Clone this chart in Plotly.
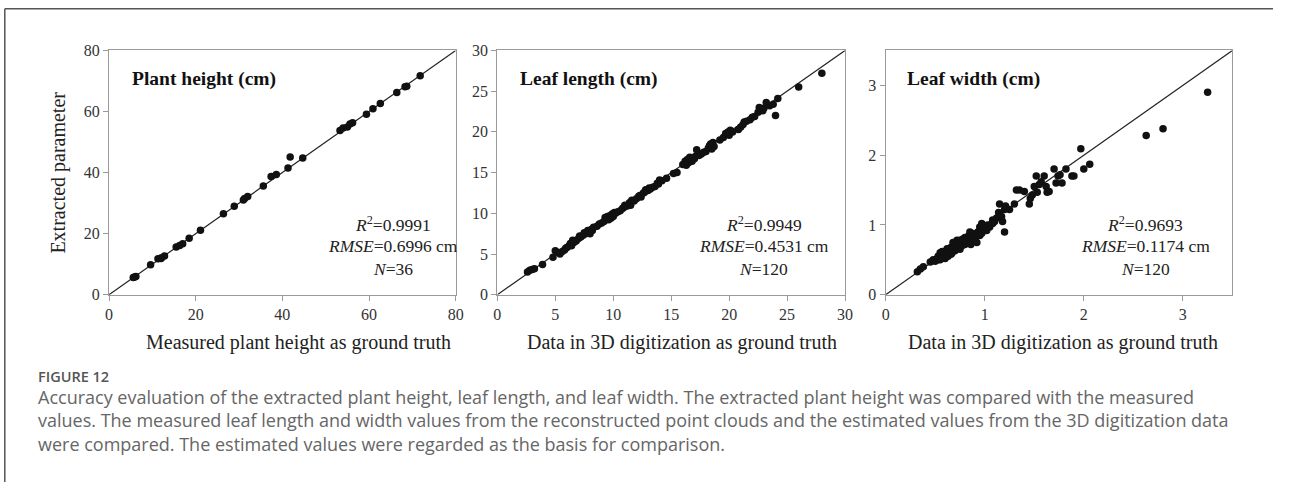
import plotly.graph_objects as go

# page is 1289x499; the html body keeps its default 8px margin, so the figure
# is made 8px smaller and all pixel positions are measured in page coordinates
PAGE_W, PAGE_H, OFF = 1289, 499, 8
W, H = PAGE_W - OFF, PAGE_H - OFF

# ---------------- data ----------------
ph_measured = [5.6, 6.2, 5.9, 9.6, 11.3, 12.1, 12.0, 12.8, 15.5, 16.3, 17.0, 18.5, 21.1, 26.4, 28.9,
               31.0, 31.3, 32.0, 35.6, 37.4, 38.6, 41.3, 41.8, 44.7, 53.3, 54.0, 55.0, 55.6, 56.2,
               59.4, 60.9, 62.6, 66.4, 68.3, 68.7, 71.8]
ph_extracted = [5.6, 6.0, 5.8, 9.8, 11.8, 12.1, 11.9, 12.7, 15.6, 16.1, 16.7, 18.5, 21.1, 26.5, 29.0,
                31.0, 31.5, 32.2, 35.6, 38.7, 39.4, 41.5, 45.1, 44.8, 53.8, 54.6, 54.9, 55.9, 56.3,
                59.1, 60.9, 62.6, 66.2, 68.1, 68.3, 71.7]

ll_digit = [2.6, 2.8, 3.0, 3.2, 3.9, 4.8, 5.0, 5.2, 5.4, 5.6, 5.8, 5.9, 6.0, 6.2, 6.3, 6.4, 6.5, 6.6,
            6.8, 7.0, 7.1, 7.2, 7.4, 7.5, 7.6, 7.8, 8.0, 8.1, 8.2, 8.3, 8.6, 8.8, 9.0, 9.2, 9.3, 9.4,
            9.5, 9.6, 9.7, 9.8, 9.9, 10.0, 10.1, 10.2, 10.4, 10.6, 10.8, 10.9, 11.0, 11.2, 11.4, 11.5,
            11.6, 11.8, 12.0, 12.2, 12.3, 12.4, 12.6, 12.7, 12.8, 13.0, 13.1, 13.2, 13.4, 13.6, 13.8,
            13.9, 14.0, 14.2, 14.6, 15.2, 15.5, 16.0, 16.2, 16.3, 16.4, 16.5, 16.6, 16.7, 16.8, 17.0,
            17.1, 17.2, 17.4, 17.6, 17.8, 18.0, 18.2, 18.3, 18.4, 18.5, 18.6, 18.7, 19.2, 19.5, 19.7,
            19.9, 20.0, 20.1, 20.3, 20.8, 21.0, 21.2, 21.3, 21.5, 21.8, 22.0, 22.2, 22.5, 22.6, 22.9,
            23.0, 23.2, 23.5, 23.8, 24.0, 24.2, 26.0, 28.0]
ll_extract = [2.8, 3.0, 3.1, 3.2, 3.7, 4.6, 5.4, 5.2, 5.0, 5.3, 5.5, 5.7, 5.8, 6.0, 6.3, 6.0, 6.7, 6.4,
              6.6, 6.9, 7.2, 7.1, 7.3, 7.6, 7.5, 7.9, 7.5, 8.0, 7.9, 8.3, 8.4, 8.7, 8.8, 9.0, 9.5, 9.3,
              9.6, 9.2, 9.7, 9.4, 9.9, 9.6, 10.1, 10.0, 10.2, 10.3, 10.6, 10.7, 11.0, 10.9, 11.3, 11.0,
              11.6, 11.5, 11.8, 12.1, 12.2, 12.0, 12.5, 12.6, 12.9, 12.8, 13.1, 13.0, 13.2, 13.3, 13.7,
              13.6, 14.1, 14.0, 14.3, 14.9, 15.0, 16.0, 16.4, 15.9, 16.6, 16.2, 16.9, 16.5, 16.4, 16.7,
              17.0, 17.8, 17.1, 17.3, 17.5, 17.6, 18.0, 18.3, 18.5, 17.9, 18.7, 18.2, 19.0, 19.3, 19.8,
              20.0, 19.6, 20.2, 20.0, 20.3, 20.6, 20.9, 21.2, 21.3, 21.5, 21.8, 21.9, 22.4, 23.0, 22.6,
              22.9, 23.6, 23.2, 23.4, 22.0, 24.1, 25.5, 27.2]

lw_digit = [0.32, 0.35, 0.38, 0.45, 0.48, 0.50, 0.52, 0.53, 0.53, 0.55, 0.55, 0.56, 0.57, 0.57, 0.58,
            0.59, 0.60, 0.60, 0.60, 0.62, 0.62, 0.63, 0.64, 0.64, 0.65, 0.66, 0.66, 0.67, 0.68, 0.68,
            0.69, 0.70, 0.70, 0.71, 0.71, 0.72, 0.72, 0.73, 0.74, 0.74, 0.75, 0.75, 0.76, 0.76, 0.77,
            0.78, 0.78, 0.79, 0.80, 0.80, 0.81, 0.82, 0.83, 0.84, 0.85, 0.85, 0.86, 0.87, 0.88, 0.88,
            0.90, 0.90, 0.92, 0.92, 0.93, 0.95, 0.95, 0.96, 0.97, 0.97, 0.98, 0.99, 1.00, 1.00, 1.02,
            1.03, 1.05, 1.08, 1.08, 1.10, 1.12, 1.14, 1.15, 1.17, 1.18, 1.20, 1.20, 1.21, 1.25, 1.30,
            1.32, 1.35, 1.40, 1.45, 1.46, 1.48, 1.50, 1.52, 1.53, 1.55, 1.57, 1.60, 1.62, 1.63, 1.65,
            1.70, 1.72, 1.74, 1.76, 1.78, 1.82, 1.88, 1.90, 1.97, 2.00, 2.06, 2.63, 2.80, 3.25]
lw_extract = [0.33, 0.37, 0.40, 0.47, 0.50, 0.48, 0.52, 0.55, 0.50, 0.50, 0.60, 0.58, 0.53, 0.62, 0.60,
              0.55, 0.62, 0.57, 0.52, 0.60, 0.66, 0.55, 0.65, 0.60, 0.62, 0.68, 0.58, 0.60, 0.75, 0.66,
              0.73, 0.70, 0.63, 0.72, 0.66, 0.67, 0.78, 0.76, 0.70, 0.68, 0.65, 0.78, 0.73, 0.77, 0.70,
              0.80, 0.72, 0.75, 0.72, 0.82, 0.77, 0.78, 0.75, 0.85, 0.80, 0.90, 0.72, 0.88, 0.82, 0.78,
              0.78, 0.86, 0.75, 0.88, 0.90, 0.85, 0.97, 0.92, 0.88, 1.02, 1.00, 0.95, 0.98, 0.92, 0.92,
              1.00, 0.97, 1.07, 1.02, 1.05, 1.10, 1.18, 1.30, 1.12, 1.05, 0.90, 1.22, 1.27, 1.22, 1.30,
              1.50, 1.50, 1.48, 1.30, 1.38, 1.43, 1.55, 1.70, 1.47, 1.58, 1.62, 1.70, 1.55, 1.47, 1.48,
              1.80, 1.60, 1.70, 1.72, 1.60, 1.80, 1.70, 1.70, 2.09, 1.80, 1.87, 2.28, 2.38, 2.90]

titles = ["Plant height (cm)", "Leaf length (cm)", "Leaf width (cm)"]
stats = [("0.9991", "0.6996", "36"), ("0.9949", "0.4531", "120"), ("0.9693", "0.1174", "120")]
x_titles = ["Measured plant height as ground truth",
            "Data in 3D digitization as ground truth",
            "Data in 3D digitization as ground truth"]
axis_max = [80, 30, 3.5]
tick_step = [20, 5, 1]
y_title = "Extracted parameter"
caption_head = "FIGURE 12"
caption_lines = [
    "Accuracy evaluation of the extracted plant height, leaf length, and leaf width. The extracted plant height was compared with the measured",
    "values. The measured leaf length and width values from the reconstructed point clouds and the estimated values from the 3D digitization data",
    "were compared. The estimated values were regarded as the basis for comparison.",
]

# ---------------- layout geometry (page pixels) ----------------
panel_px = [(114, 464), (506, 857), (898, 1248)]
top_px, bot_px = 52, 305
title_x = [135, 527, 918]
stats_cx = [401, 775, 1160]
xtitle_cx = [305, 692, 1077]
SERIF = "Liberation Serif, Times New Roman, serif"
SANS = "Open Sans, Lato, sans-serif"


def px(x):
    return (x - OFF) / W


def py(y):
    return 1 - (y - OFF) / H


fig = go.Figure()
xs = [ph_measured, ll_digit, lw_digit]
ys = [ph_extracted, ll_extract, lw_extract]

for i in range(3):
    sfx = "" if i == 0 else str(i + 1)
    m = axis_max[i]
    fig.add_trace(go.Scatter(x=[0, m], y=[0, m], mode="lines",
                             line=dict(color="#222", width=1.2),
                             xaxis="x" + sfx, yaxis="y" + sfx, showlegend=False, hoverinfo="skip"))
    fig.add_trace(go.Scatter(x=xs[i], y=ys[i], mode="markers",
                             marker=dict(color="#111", size=7.5, line=dict(width=0)),
                             xaxis="x" + sfx, yaxis="y" + sfx, showlegend=False))
    common = dict(range=[0, m], tick0=0, dtick=tick_step[i], showgrid=False, zeroline=False,
                  showline=True, linecolor="#9a9a9a", linewidth=1.2, mirror=True,
                  ticks="outside", ticklen=5, tickcolor="#9a9a9a", tickwidth=1.2,
                  tickfont=dict(family=SERIF, size=16, color="#333"), fixedrange=True)
    ax = dict(domain=[px(panel_px[i][0]), px(panel_px[i][1])], anchor="y" + sfx, **common)
    ay = dict(domain=[py(bot_px), py(top_px)], anchor="x" + sfx, **common)
    fig.update_layout(**{"xaxis" + sfx: ax, "yaxis" + sfx: ay})

    # panel title
    fig.add_annotation(xref="paper", yref="paper", x=px(title_x[i]), y=py(82),
                       text="<b>" + titles[i] + "</b>", showarrow=False, xanchor="left",
                       yanchor="middle", font=dict(family=SERIF, size=19.5, color="#111"))
    # stats
    r2, rmse, n = stats[i]
    for j, t in enumerate(["<i>R</i><sup>2</sup>=" + r2,
                           "<i>RMSE</i>=" + rmse + " cm",
                           "<i>N</i>=" + n]):
        fig.add_annotation(xref="paper", yref="paper", x=px(stats_cx[i]), y=py(232 + 23 * j),
                           text=t, showarrow=False, xanchor="center", yanchor="middle",
                           font=dict(family=SERIF, size=17.5, color="#222"))
    # x title
    fig.add_annotation(xref="paper", yref="paper", x=px(xtitle_cx[i]), y=py(354),
                       text=x_titles[i], showarrow=False, xanchor="center", yanchor="middle",
                       font=dict(family=SERIF, size=20, color="#222"))

# y title
fig.add_annotation(xref="paper", yref="paper", x=px(63), y=py(178), text=y_title,
                   textangle=-90, showarrow=False, xanchor="center", yanchor="middle",
                   font=dict(family=SERIF, size=20, color="#222"))

# caption
fig.add_annotation(xref="paper", yref="paper", x=px(40), y=py(390), text=caption_head,
                   showarrow=False, xanchor="left", yanchor="middle",
                   font=dict(family=SANS, size=14.5, color="#555", weight=600))
fig.add_annotation(xref="paper", yref="paper", x=px(40), y=py(435), text="<br>".join(caption_lines),
                   showarrow=False, xanchor="left", yanchor="middle", align="left",
                   font=dict(family=SANS, size=18, color="#666"))

# frame lines (top and left)
fig.add_shape(type="line", xref="paper", yref="paper", x0=px(8.8), x1=1, y0=py(8.8), y1=py(8.8),
              line=dict(color="#555", width=1.5))
fig.add_shape(type="line", xref="paper", yref="paper", x0=px(8.8), x1=px(8.8), y0=0, y1=py(8.8),
              line=dict(color="#555", width=1.5))

fig.update_layout(width=W, height=H, margin=dict(l=0, r=0, t=0, b=0),
                  paper_bgcolor="white", plot_bgcolor="white", showlegend=False)

fig.write_html("out.html", config={"displayModeBar": False})
